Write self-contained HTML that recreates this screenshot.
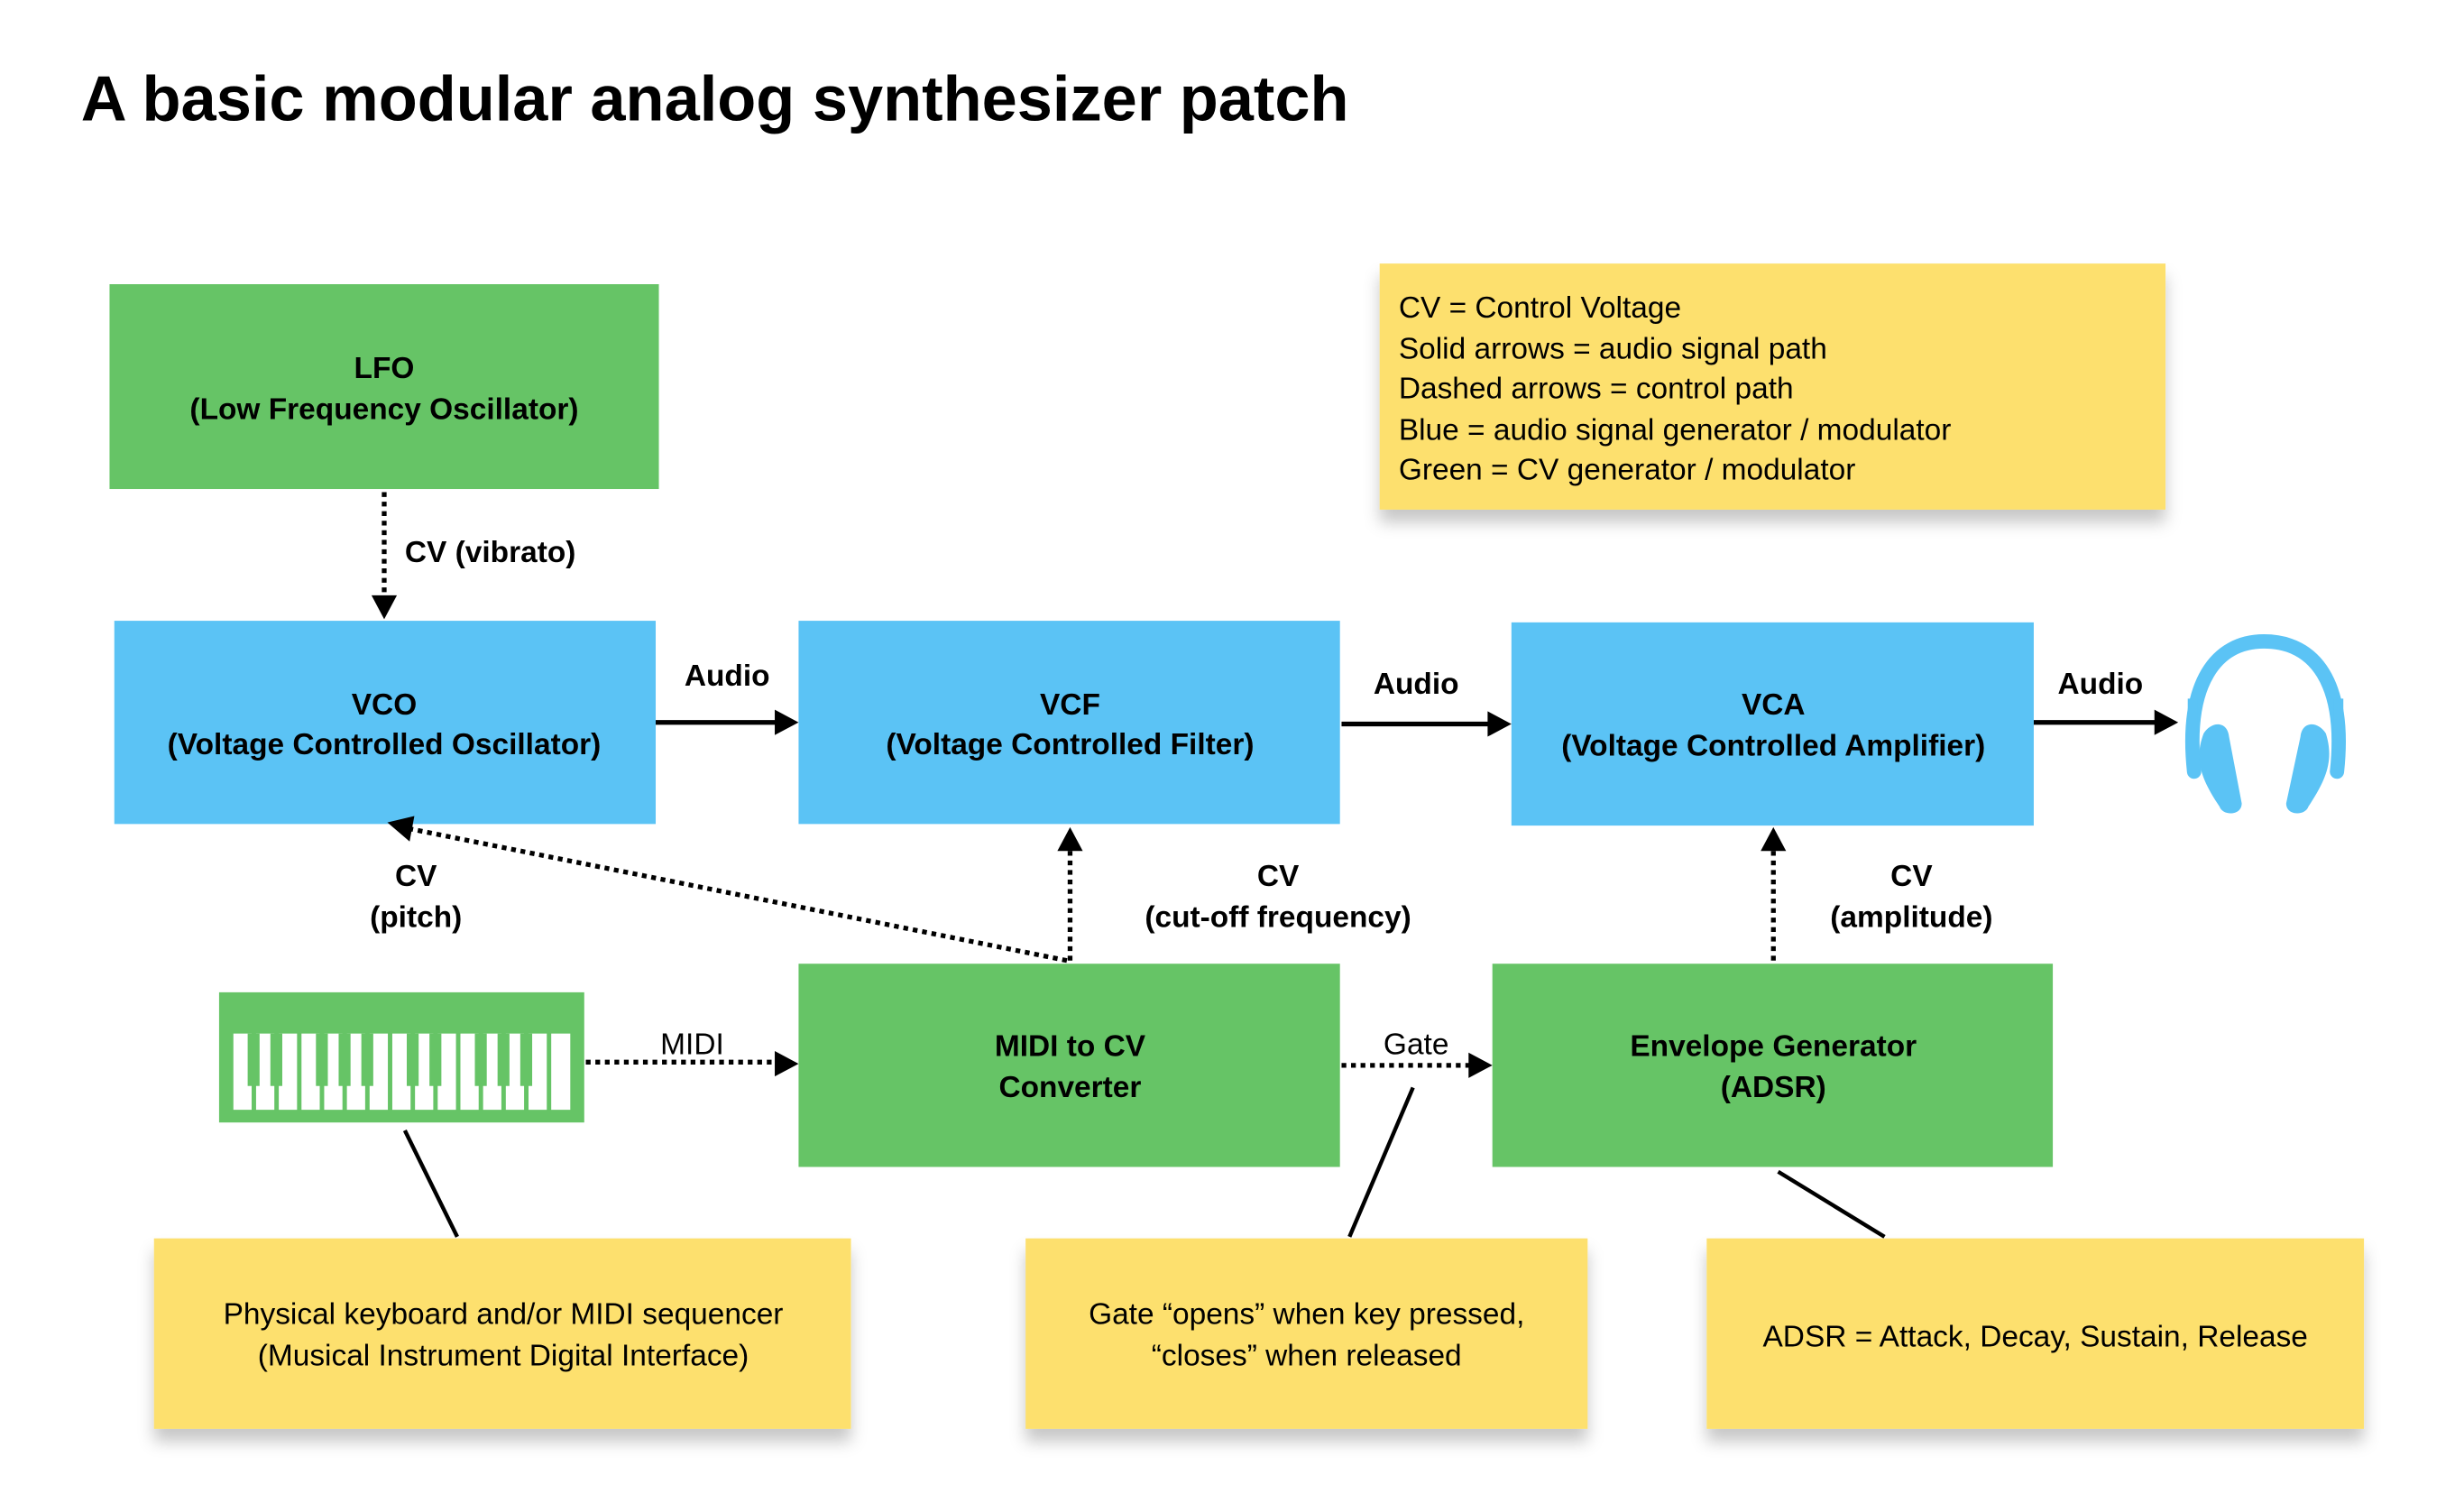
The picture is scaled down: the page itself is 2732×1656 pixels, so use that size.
<!DOCTYPE html>
<html><head><meta charset="utf-8"><style>
html,body{margin:0;padding:0;background:#fff;}
svg{display:block;}
text{font-family:"Liberation Sans",sans-serif;fill:#000;}
.b{font-weight:bold;font-size:19px;}
.n{font-size:19px;}
</style></head><body>
<svg width="2732" height="1656" viewBox="0 0 1552 941" preserveAspectRatio="none" xmlns="http://www.w3.org/2000/svg">
<defs>
<marker id="ah" viewBox="0 0 10 10" refX="9" refY="5" markerWidth="5" markerHeight="5" orient="auto" markerUnits="userSpaceOnUse">
</marker>
<filter id="sh" x="-10%" y="-10%" width="120%" height="140%">
<feDropShadow dx="0" dy="8" stdDeviation="5" flood-color="#000" flood-opacity="0.22"/>
</filter>
</defs>
<text x="51" y="76" style="font-size:40px;font-weight:bold;">A basic modular analog synthesizer patch</text>

<!-- legend -->
<rect x="869" y="166" width="495" height="155" fill="#fde06e" filter="url(#sh)"/>
<text class="n" x="881" y="200">CV = Control Voltage</text>
<text class="n" x="881" y="226">Solid arrows = audio signal path</text>
<text class="n" x="881" y="251">Dashed arrows = control path</text>
<text class="n" x="881" y="277">Blue = audio signal generator / modulator</text>
<text class="n" x="881" y="302">Green = CV generator / modulator</text>

<!-- boxes -->
<rect x="69" y="179" width="346" height="129" fill="#66c466"/>
<text class="b" text-anchor="middle" x="242" y="238">LFO</text>
<text class="b" text-anchor="middle" x="242" y="264">(Low Frequency Oscillator)</text>

<rect x="72" y="391" width="341" height="128" fill="#5bc3f5"/>
<text class="b" text-anchor="middle" x="242" y="450">VCO</text>
<text class="b" text-anchor="middle" x="242" y="475">(Voltage Controlled Oscillator)</text>

<rect x="503" y="391" width="341" height="128" fill="#5bc3f5"/>
<text class="b" text-anchor="middle" x="674" y="450">VCF</text>
<text class="b" text-anchor="middle" x="674" y="475">(Voltage Controlled Filter)</text>

<rect x="952" y="392" width="329" height="128" fill="#5bc3f5"/>
<text class="b" text-anchor="middle" x="1117" y="450">VCA</text>
<text class="b" text-anchor="middle" x="1117" y="476">(Voltage Controlled Amplifier)</text>

<rect x="503" y="607" width="341" height="128" fill="#66c466"/>
<text class="b" text-anchor="middle" x="674" y="665">MIDI to CV</text>
<text class="b" text-anchor="middle" x="674" y="691">Converter</text>

<rect x="940" y="607" width="353" height="128" fill="#66c466"/>
<text class="b" text-anchor="middle" x="1117" y="665">Envelope Generator</text>
<text class="b" text-anchor="middle" x="1117" y="691">(ADSR)</text>

<!-- keyboard -->
<rect x="138" y="625" width="230" height="82" fill="#66c466"/>
<g fill="#fff">
<rect x="147" y="651" width="11.5" height="48"/><rect x="161.3" y="651" width="11.5" height="48"/><rect x="175.6" y="651" width="11.5" height="48"/><rect x="189.9" y="651" width="11.5" height="48"/><rect x="204.2" y="651" width="11.5" height="48"/><rect x="218.5" y="651" width="11.5" height="48"/><rect x="232.8" y="651" width="11.5" height="48"/><rect x="247.1" y="651" width="11.5" height="48"/><rect x="261.4" y="651" width="11.5" height="48"/><rect x="275.7" y="651" width="11.5" height="48"/><rect x="290" y="651" width="11.5" height="48"/><rect x="304.3" y="651" width="11.5" height="48"/><rect x="318.6" y="651" width="11.5" height="48"/><rect x="332.9" y="651" width="11.5" height="48"/><rect x="347.2" y="651" width="12" height="48"/>
</g>
<g fill="#66c466">
<rect x="156" y="651" width="7.5" height="33"/><rect x="170.3" y="651" width="7.5" height="33"/><rect x="199" y="651" width="7.5" height="33"/><rect x="213.3" y="651" width="7.5" height="33"/><rect x="227.6" y="651" width="7.5" height="33"/><rect x="256.2" y="651" width="7.5" height="33"/><rect x="270.5" y="651" width="7.5" height="33"/><rect x="299.1" y="651" width="7.5" height="33"/><rect x="313.4" y="651" width="7.5" height="33"/><rect x="327.7" y="651" width="7.5" height="33"/>
</g>

<!-- headphones -->
<g fill="none" stroke="#5bc3f5" stroke-width="9" stroke-linecap="round">
<path d="M1382,486 C1376,430 1396,404 1426,404 C1458,404 1478,430 1472,486"/>
</g>
<g fill="#5bc3f5">
<path d="M1378,440 L1384,440 L1384,470 L1378,470 Z"/>
<path d="M1470,440 L1476,440 L1476,470 L1470,470 Z"/>
<path d="M1388,462 C1393,454 1403,454 1404,464 L1412,506 C1412,514 1400,514 1398,508 C1386,490 1382,478 1388,462 Z"/>
<path d="M1465,462 C1460,454 1450,454 1449,464 L1440,506 C1440,514 1452,514 1454,508 C1466,490 1470,478 1465,462 Z"/>
</g>

<!-- solid arrows -->
<g stroke="#000" stroke-width="3">
<line x1="413" y1="455" x2="490" y2="455"/>
<line x1="845" y1="456" x2="939" y2="456"/>
<line x1="1281" y1="455" x2="1359" y2="455"/>
</g>
<g fill="#000">
<polygon points="503,455 488,447 488,463"/>
<polygon points="952,456 937,448 937,464"/>
<polygon points="1372,455 1357,447 1357,463"/>
</g>

<!-- dotted arrows -->
<g stroke="#000" stroke-width="3" stroke-dasharray="3,3" fill="none">
<line x1="242" y1="310" x2="242" y2="377"/>
<line x1="674" y1="605" x2="674" y2="534"/>
<line x1="1117" y1="605" x2="1117" y2="534"/>
<line x1="672" y1="605" x2="258" y2="522"/>
<line x1="369" y1="669" x2="490" y2="669"/>
<line x1="845" y1="671" x2="926" y2="671"/>
</g>
<g fill="#000">
<polygon points="242,390 234,375 250,375"/>
<polygon points="674,521 666,536 682,536"/>
<polygon points="1117,521 1109,536 1125,536"/>
<polygon points="244,518 261,514 258,530"/>
<polygon points="503,670 488,662 488,678"/>
<polygon points="940,671 925,663 925,679"/>
</g>

<!-- labels -->
<text class="b" x="255" y="354">CV (vibrato)</text>
<text class="b" text-anchor="middle" x="458" y="432">Audio</text>
<text class="b" text-anchor="middle" x="892" y="437">Audio</text>
<text class="b" text-anchor="middle" x="1323" y="437">Audio</text>
<text class="b" text-anchor="middle" x="262" y="558">CV</text>
<text class="b" text-anchor="middle" x="262" y="584">(pitch)</text>
<text class="b" text-anchor="middle" x="805" y="558">CV</text>
<text class="b" text-anchor="middle" x="805" y="584">(cut-off frequency)</text>
<text class="b" text-anchor="middle" x="1204" y="558">CV</text>
<text class="b" text-anchor="middle" x="1204" y="584">(amplitude)</text>
<text class="n" text-anchor="middle" x="436" y="664">MIDI</text>
<text class="n" text-anchor="middle" x="892" y="664">Gate</text>

<!-- callout lines -->
<g stroke="#000" stroke-width="2.5">
<line x1="255" y1="712" x2="288" y2="779"/>
<line x1="890" y1="685" x2="850" y2="779"/>
<line x1="1120" y1="738" x2="1187" y2="779"/>
</g>

<!-- notes -->
<rect x="97" y="780" width="439" height="120" fill="#fde06e" filter="url(#sh)"/>
<text class="n" text-anchor="middle" x="317" y="834">Physical keyboard and/or MIDI sequencer</text>
<text class="n" text-anchor="middle" x="317" y="860">(Musical Instrument Digital Interface)</text>
<rect x="646" y="780" width="354" height="120" fill="#fde06e" filter="url(#sh)"/>
<text class="n" text-anchor="middle" x="823" y="834">Gate “opens” when key pressed,</text>
<text class="n" text-anchor="middle" x="823" y="860">“closes” when released</text>
<rect x="1075" y="780" width="414" height="120" fill="#fde06e" filter="url(#sh)"/>
<text class="n" text-anchor="middle" x="1282" y="848">ADSR = Attack, Decay, Sustain, Release</text>
</svg>
</body></html>
